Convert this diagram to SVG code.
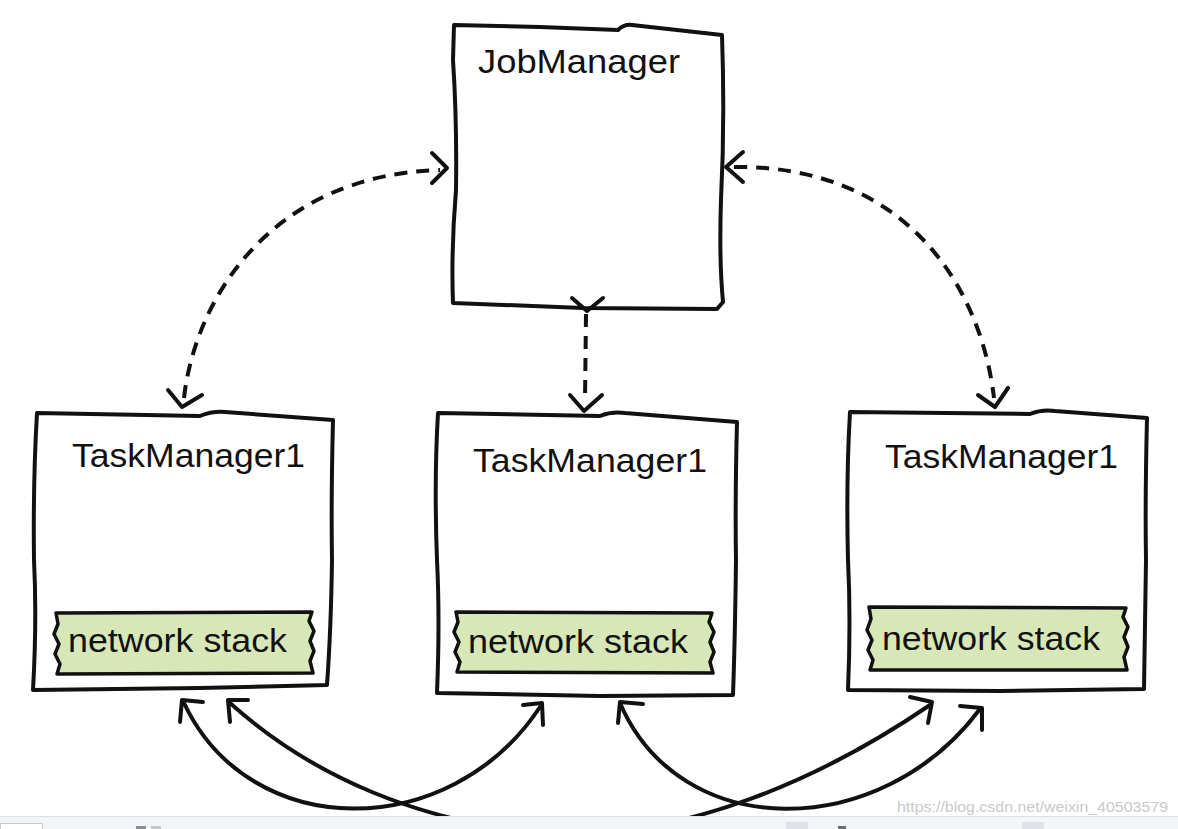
<svg xmlns="http://www.w3.org/2000/svg" width="1178" height="829" viewBox="0 0 1178 829">
<style>
.box{fill:#fff;stroke:#111;stroke-width:4;stroke-linejoin:round;stroke-linecap:round}
.tape{fill:#d8e7b7;stroke:#111;stroke-width:3.5;stroke-linejoin:round}
.lbl{font-family:"Liberation Sans",Arial,sans-serif;font-size:34px;fill:#111}
.dash{fill:none;stroke:#111;stroke-width:4;stroke-dasharray:13 9;stroke-linecap:butt}
.line{fill:none;stroke:#111;stroke-width:4;stroke-linecap:round;stroke-linejoin:round}
.wm{font-family:"Liberation Sans",Arial,sans-serif;font-size:15px;fill:#c9c9c9}
</style>
<rect width="1178" height="829" fill="#fff"/>

<g id="jobmanager">
  <path class="box" d="M 454 25 L 540 27 L 618 30 Q 624 24 632 25 L 722 35 Q 725 120 721 200 Q 719 260 723 302 L 717 309 L 583 308 L 453 303 Q 451 250 456 190 Q 457 120 453 60 Z"/>
  <text class="lbl" x="478" y="73" textLength="202" lengthAdjust="spacingAndGlyphs">JobManager</text>
</g>

<g id="taskmanager-left">
  <path class="box" d="M 37 413 L 200 416 Q 212 411 225 412 L 333 420 Q 331 500 332 560 Q 331 630 327 685 L 200 688 L 33 690 Q 37 620 34 560 Q 33 480 37 413 Z"/>
  <text class="lbl" x="72" y="467" textLength="233" lengthAdjust="spacingAndGlyphs">TaskManager1</text>
  <path class="tape" d="M 56 613 L 312 612 L 309 621 L 314 631 L 310 641 L 314 651 L 310 661 L 313 673 L 57 674 L 60 664 L 55 654 L 59 644 L 54 634 L 58 624 Z"/>
  <text class="lbl" x="68" y="652" textLength="219" lengthAdjust="spacingAndGlyphs">network stack</text>
</g>

<g id="taskmanager-middle">
  <path class="box" d="M 438 413 L 600 416 Q 612 411 625 413 L 737 422 Q 735 500 736 560 Q 735 640 733 695 L 600 696 L 437 693 Q 440 620 437 560 Q 434 480 438 413 Z"/>
  <text class="lbl" x="473" y="472" textLength="234" lengthAdjust="spacingAndGlyphs">TaskManager1</text>
  <path class="tape" d="M 456 612 L 712 613 L 709 622 L 714 632 L 710 642 L 714 652 L 710 662 L 713 673 L 457 672 L 460 662 L 455 652 L 459 642 L 454 632 L 458 622 Z"/>
  <text class="lbl" x="468" y="653" textLength="220" lengthAdjust="spacingAndGlyphs">network stack</text>
</g>

<g id="taskmanager-right">
  <path class="box" d="M 850 412 L 1030 414 Q 1042 409 1055 411 L 1147 418 Q 1145 500 1146 560 Q 1145 630 1144 689 L 1000 691 L 848 690 Q 851 620 848 560 Q 846 480 850 412 Z"/>
  <text class="lbl" x="885" y="468" textLength="233" lengthAdjust="spacingAndGlyphs">TaskManager1</text>
  <path class="tape" d="M 869 607 L 1126 608 L 1123 617 L 1128 627 L 1124 637 L 1128 647 L 1124 657 L 1127 670 L 870 670 L 873 660 L 868 650 L 872 640 L 867 630 L 871 619 Z"/>
  <text class="lbl" x="882" y="650" textLength="218" lengthAdjust="spacingAndGlyphs">network stack</text>
</g>

<g id="connectors">
  <path class="dash" d="M 184 398 C 195 300, 270 175, 440 170"/>
  <path class="line" d="M 432 153 L 447 168 L 432 183"/>
  <path class="line" d="M 168 390 L 182 407 L 202 395"/>

  <path class="dash" d="M 734 167 C 900 165, 980 280, 994 398"/>
  <path class="line" d="M 743 152 L 726 167 L 743 182"/>
  <path class="line" d="M 978 395 L 995 407 L 1008 388"/>

  <path class="dash" d="M 586 314 L 585 400"/>
  <path class="line" d="M 572 298 L 587 311 L 603 298"/>
  <path class="line" d="M 570 395 L 584 411 L 602 395"/>

  <path class="line" d="M 184 703 C 250 843, 450 843, 540 707"/>
  <path class="line" d="M 180 722 L 182 700 L 203 702"/>
  <path class="line" d="M 523 705 L 542 703 L 543 725"/>

  <path class="line" d="M 230 703 C 310 775, 420 825, 560 835 C 690 835, 820 780, 930 705"/>
  <path class="line" d="M 230 722 L 228 700 L 248 700"/>
  <path class="line" d="M 910 697 L 932 702 L 928 723"/>

  <path class="line" d="M 620 703 C 680 843, 880 843, 980 709"/>
  <path class="line" d="M 618 723 L 620 702 L 643 704"/>
  <path class="line" d="M 960 706 L 982 708 L 982 730"/>
</g>

<text class="wm" x="897" y="812" textLength="271" lengthAdjust="spacingAndGlyphs">https://blog.csdn.net/weixin_40503579</text>

<g id="toolbar">
  <rect x="0" y="816" width="1178" height="13" fill="#f4f5f7"/>
  <line x1="0" y1="816.5" x2="1178" y2="816.5" stroke="#dcdfe4" stroke-width="1"/>
  <rect x="0.5" y="823.5" width="42" height="8" fill="#fff" stroke="#c8ccd2"/>
  <rect x="136" y="826" width="10" height="6" fill="#8a8f96"/>
  <rect x="151" y="826" width="10" height="6" fill="#c3c7cc"/>
  <rect x="786" y="822" width="22" height="10" fill="#dfe2e8"/>
  <rect x="838" y="826" width="8" height="6" fill="#6a6f76"/>
  <rect x="1022" y="822" width="22" height="10" fill="#dfe2e8"/>
</g>
</svg>
